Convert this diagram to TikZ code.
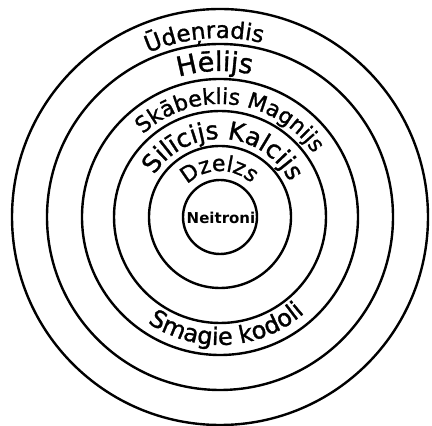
\documentclass[tikz,border=0pt]{standalone}
\usepackage{fontspec}
\setmainfont{DejaVu Sans}
\newfontfamily\shellface{DejaVu Sans}[FakeBold=1.2]
\usetikzlibrary{decorations.text}

% letter sizes for the shell names
\newcommand\fsHyd{\shellface\fontsize{23pt}{23pt}\selectfont}
\newcommand\fsHel{\shellface\fontsize{27pt}{27pt}\selectfont}
\newcommand\fsOxy{\shellface\fontsize{22pt}{22pt}\selectfont}
\newcommand\fsSil{\shellface\fontsize{25pt}{25pt}\selectfont}
\newcommand\fsIron{\shellface\fontsize{22pt}{22pt}\selectfont}
\newcommand\fsHeavy{\shellface\fontsize{24pt}{24pt}\selectfont}

\tikzset{
  shell/.style={line width=2.4pt},
  shelllabel/.style={decorate, decoration={text along path, text align=center, text={#1}}},
}

\begin{document}
\begin{tikzpicture}[x=1pt,y=1pt]
    \useasboundingbox (0,0) rectangle (432,426);
    \coordinate (c) at (220,209);

    % the shells
    \foreach \r in {37,71,106,138,173,208}
        \draw[shell] (c) circle[radius=\r];

    \node[font=\bfseries\fontsize{15pt}{15pt}\selectfont, inner sep=0pt] (neitroni) at (221,208) {Neitroni};

    % names along the rings
    \path[shelllabel={|\fsHyd|Ūdeņradis}] ([shift={(155:179)}]c) arc[start angle=155, end angle=35, radius=179];
    \path[shelllabel={|\fsHel|Hēlijs}] ([shift={(162:146)}]c) arc[start angle=162, end angle=22, radius=146];
    \path[shelllabel={|\fsOxy|Skābeklis Magnijs}] ([shift={(163.5:113)}]c) arc[start angle=163.5, end angle=3.5, radius=113];
    \path[shelllabel={|\fsSil|Silīcijs Kalcijs}] ([shift={(172:78)}]c) arc[start angle=172, end angle=2, radius=78];
    \path[shelllabel={|\fsIron|Dzelzs}] ([shift={(166:46)}]c) arc[start angle=166, end angle=16, radius=46];
    \path[shelllabel={|\fsHeavy|Smagie kodoli}] ([shift={(193.5:128)}]c) arc[start angle=193.5, end angle=353.5, radius=128];
\end{tikzpicture}
\end{document}
